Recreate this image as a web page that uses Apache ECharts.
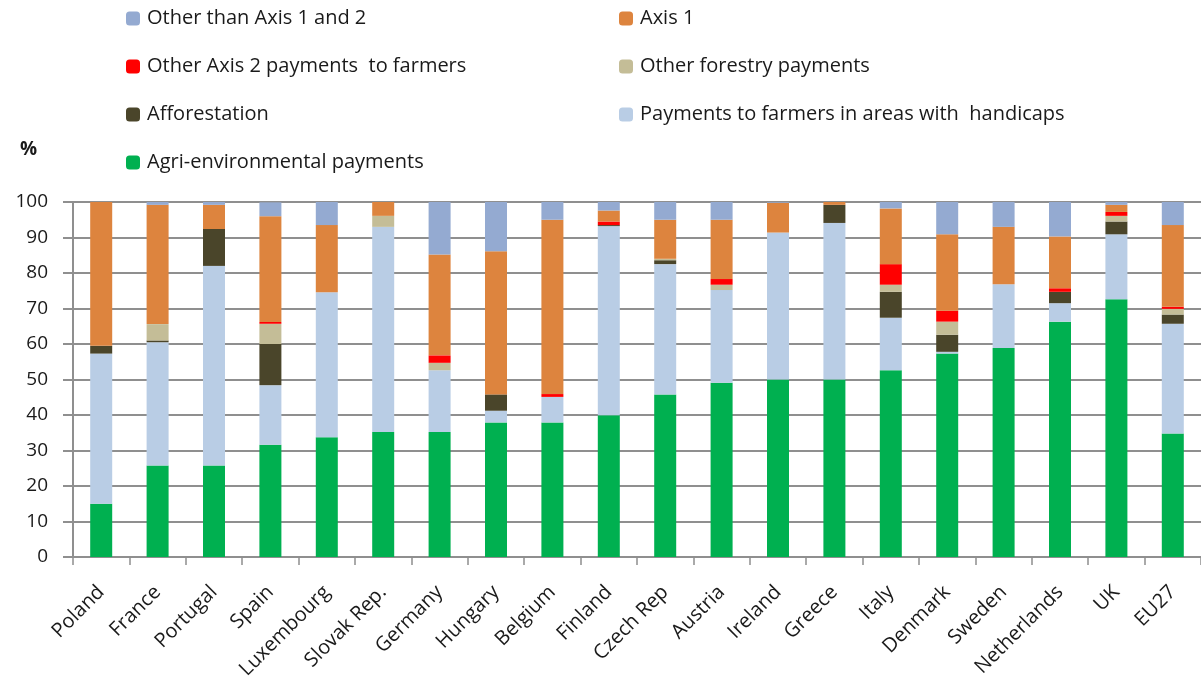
<!DOCTYPE html>
<html>
<head>
<meta charset="utf-8">
<script src="https://cdn.jsdelivr.net/npm/echarts@6/dist/echarts.min.js"></script>
<style>
  html, body { margin: 0; padding: 0; background: #fff; }
  #main { width: 1201px; height: 685px; }
</style>
</head>
<body>
<div id="main"></div>
<script>
// categories
var countries = ['Poland', 'France', 'Portugal', 'Spain', 'Luxembourg', 'Slovak Rep.', 'Germany', 'Hungary',
    'Belgium', 'Finland', 'Czech Rep', 'Austria', 'Ireland', 'Greece', 'Italy', 'Denmark', 'Sweden',
    'Netherlands', 'UK', 'EU27'];

// series, bottom to top of the stack (%)
var agriEnv     = [15.0, 25.8, 25.8, 31.6, 33.7, 35.2, 35.2, 37.9, 37.9, 39.9, 45.8, 49.1, 50.0, 50.0, 52.6, 57.3, 58.9, 66.3, 72.6, 34.8];
var handicaps   = [42.3, 34.7, 56.2, 16.8, 40.9, 57.8, 17.4, 3.3, 7.2, 53.3, 36.7, 26.1, 41.4, 44.1, 14.8, 0.5, 17.9, 5.2, 18.3, 30.9];
var afforest    = [2.2, 0.5, 10.4, 11.6, 0, 0, 0, 4.6, 0, 0.3, 1.1, 0, 0, 5.1, 7.3, 4.8, 0, 3.2, 3.6, 2.6];
var otherForest = [0, 4.6, 0, 5.7, 0, 3.1, 2.1, 0, 0, 0, 0.4, 1.5, 0, 0, 2.0, 3.7, 0, 0, 1.6, 1.6];
var otherAxis2  = [0, 0, 0, 0.5, 0, 0, 2.1, 0, 0.8, 1.0, 0, 1.6, 0, 0, 5.8, 3.1, 0, 1.0, 1.1, 0.6];
var axis1       = [40.5, 33.6, 6.8, 29.8, 18.9, 3.9, 28.4, 40.3, 49.1, 3.1, 11.0, 16.7, 8.4, 0.8, 15.7, 21.5, 16.2, 14.6, 2.0, 23.0];
var otherThan   = [0, 0.8, 0.8, 3.9, 6.5, 0, 14.8, 13.9, 5.0, 2.4, 5.0, 5.0, 0.2, 0, 1.8, 9.1, 7.0, 9.7, 0.8, 6.5];

var FONT = '"Open Sans", Lato, sans-serif';
var gridColor = '#8f8f8f';

var chart = echarts.init(document.getElementById('main'));

var mk = function (name, data, color) {
    return {
        name: name,
        type: 'bar',
        stack: 'total',
        barWidth: 22,
        data: data,
        itemStyle: {color: color},
        emphasis: {disabled: true}
    };
};

var legendText = {fontFamily: FONT, fontSize: 20, lineHeight: 21, color: '#1a1a1a', padding: [0, 0, 0, 2]};

chart.setOption({
    animation: false,
    textStyle: {fontFamily: FONT},
    title: {
        text: '%',
        left: 20,
        top: 140,
        padding: 0,
        textStyle: {fontFamily: FONT, fontSize: 19, fontWeight: 'bold', color: '#1a1a1a'}
    },
    legend: [{
        left: 126,
        top: 8,
        padding: 0,
        orient: 'vertical',
        itemWidth: 14,
        itemHeight: 14,
        itemGap: 27,
        textStyle: legendText,
        data: ['Other than Axis 1 and 2', 'Other Axis 2 payments  to farmers', 'Afforestation', 'Agri-environmental payments']
    }, {
        left: 619,
        top: 8,
        padding: 0,
        orient: 'vertical',
        itemWidth: 14,
        itemHeight: 14,
        itemGap: 27,
        textStyle: legendText,
        data: ['Axis 1', 'Other forestry payments', 'Payments to farmers in areas with  handicaps']
    }],
    grid: {left: 73, top: 202, width: 1132, bottom: 128},
    xAxis: {
        type: 'category',
        data: countries,
        axisLine: {lineStyle: {color: gridColor, width: 2}},
        axisTick: {show: true, length: 8, lineStyle: {color: gridColor, width: 1.5}},
        axisLabel: {
            interval: 0,
            rotate: 45,
            margin: 32,
            fontFamily: FONT,
            fontSize: 20,
            color: '#1a1a1a'
        }
    },
    yAxis: {
        type: 'value',
        min: 0,
        max: 100,
        interval: 10,
        axisLine: {show: true, lineStyle: {color: gridColor, width: 2}},
        axisTick: {show: true, length: 10, lineStyle: {color: gridColor, width: 2}},
        splitLine: {lineStyle: {color: gridColor, width: 2}},
        axisLabel: {fontFamily: FONT, fontSize: 19, color: '#1a1a1a', margin: 25}
    },
    series: [
        mk('Agri-environmental payments', agriEnv, '#00B050'),
        mk('Payments to farmers in areas with  handicaps', handicaps, '#B9CDE5'),
        mk('Afforestation', afforest, '#4A452A'),
        mk('Other forestry payments', otherForest, '#C4BD97'),
        mk('Other Axis 2 payments  to farmers', otherAxis2, '#FF0000'),
        mk('Axis 1', axis1, '#DD843E'),
        mk('Other than Axis 1 and 2', otherThan, '#94AAD1')
    ]
});

window.onresize = chart.resize;
</script>
</body>
</html>
